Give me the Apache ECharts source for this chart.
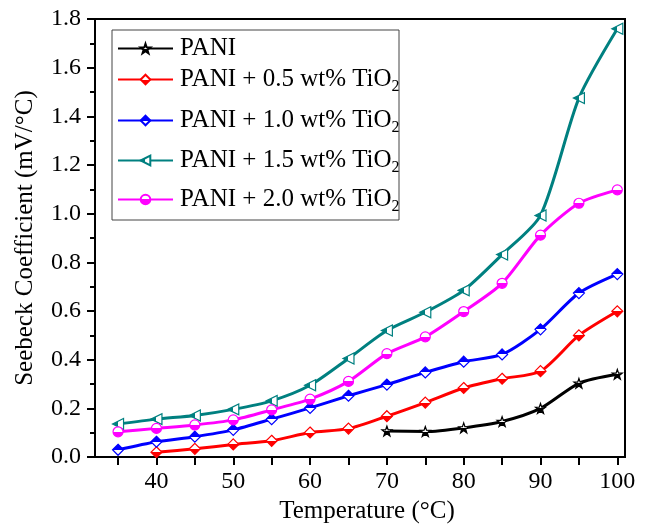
<!DOCTYPE html>
<html>
<head>
<meta charset="utf-8">
<script src="https://cdn.jsdelivr.net/npm/echarts@6/dist/echarts.min.js"></script>
<style>html,body{margin:0;padding:0;background:#fff}#c{width:648px;height:529px}</style>
</head>
<body>
<div id="c"></div>
<script>
// ---- data ----
const seriesNames = ['PANI', 'PANI + 0.5 wt% TiO2', 'PANI + 1.0 wt% TiO2', 'PANI + 1.5 wt% TiO2', 'PANI + 2.0 wt% TiO2'];
const tempsPANI = [70, 75, 80, 85, 90, 95, 100];
const valsPANI  = [0.107, 0.105, 0.12, 0.146, 0.2, 0.303, 0.34];
const temps05 = [40, 45, 50, 55, 60, 65, 70, 75, 80, 85, 90, 95, 100];
const vals05  = [0.02, 0.034, 0.052, 0.067, 0.101, 0.117, 0.168, 0.224, 0.284, 0.322, 0.353, 0.5, 0.599];
const temps10 = [35, 40, 45, 50, 55, 60, 65, 70, 75, 80, 85, 90, 95, 100];
const vals10  = [0.03, 0.063, 0.084, 0.112, 0.156, 0.202, 0.252, 0.298, 0.348, 0.392, 0.422, 0.525, 0.674, 0.752];
const temps15 = [35, 40, 45, 50, 55, 60, 65, 70, 75, 80, 85, 90, 95, 100];
const vals15  = [0.136, 0.156, 0.171, 0.196, 0.231, 0.295, 0.405, 0.52, 0.595, 0.685, 0.832, 0.993, 1.475, 1.76];
const temps20 = [35, 40, 45, 50, 55, 60, 65, 70, 75, 80, 85, 90, 95, 100];
const vals20  = [0.104, 0.118, 0.132, 0.153, 0.194, 0.238, 0.311, 0.425, 0.494, 0.598, 0.714, 0.912, 1.043, 1.098];
const xLabelTicks = [40, 50, 60, 70, 80, 90, 100];
const xTickValues = [35, 40, 45, 50, 55, 60, 65, 70, 75, 80, 85, 90, 95, 100];

const colors = ['#000000', '#FF0000', '#0000FF', '#008080', '#FF00FF'];
const FONT = '"Liberation Serif", "Times New Roman", serif';

function pairs(xs, ys) { return xs.map((x, i) => [x, ys[i]]); }
function half(c, dir) {
  if (dir === 'h') return {type: 'linear', x: 0, y: 0, x2: 1, y2: 0, colorStops: [{offset: 0, color: c}, {offset: 0.5, color: c}, {offset: 0.5, color: '#fff'}, {offset: 1, color: '#fff'}]};
  if (dir === 'vr') return {type: 'linear', x: 0, y: 0, x2: 0, y2: 1, colorStops: [{offset: 0, color: c}, {offset: 0.5, color: c}, {offset: 0.5, color: '#fff'}, {offset: 1, color: '#fff'}]};
  return {type: 'linear', x: 0, y: 0, x2: 0, y2: 1, colorStops: [{offset: 0, color: '#fff'}, {offset: 0.5, color: '#fff'}, {offset: 0.5, color: c}, {offset: 1, color: c}]};
}
const STAR = 'path://M0,-10L2.35,-3.24L9.51,-3.09L3.8,1.24L5.88,8.09L0,4L-5.88,8.09L-3.8,1.24L-9.51,-3.09L-2.35,-3.24Z';
const TRI_LEFT = 'path://M0,5L10,0L10,10Z';

const datasets = [pairs(tempsPANI, valsPANI), pairs(temps05, vals05), pairs(temps10, vals10), pairs(temps15, vals15), pairs(temps20, vals20)];
const symbols = [STAR, 'diamond', 'diamond', TRI_LEFT, 'circle'];
const symbolSizes = [10, 11, 11, 11, 10];
const fills = [half('#000', 'v'), half(colors[1], 'v'), half(colors[2], 'vr'), half(colors[3], 'h'), half(colors[4], 'v')];

const series = seriesNames.map((name, i) => ({
  name: name,
  type: 'line',
  data: datasets[i],
  smooth: 0.25,
  symbol: symbols[i],
  symbolSize: symbolSizes[i],
  showAllSymbol: true,
  lineStyle: {color: colors[i], width: 3},
  itemStyle: {color: fills[i], borderColor: colors[i], borderWidth: 1.2},
  emphasis: {disabled: true},
  z: 3 + i
}));

const rowTops = [36, 67, 108, 148, 187];
const legends = seriesNames.map((name, i) => ({
  data: [name],
  left: 117,
  top: rowTops[i],
  padding: 0,
  itemWidth: 55,
  itemHeight: 12,
  selectedMode: false,
  formatter: n => n.replace(/TiO2$/, 'TiO{sub|2}'),
  textStyle: {
    fontFamily: FONT, fontSize: 25, color: '#000', padding: [0, 0, 0, 2],
    rich: {sub: {fontFamily: FONT, fontSize: 16, color: '#000', padding: [14, 0, 0, 0]}}
  }
}));

const chart = echarts.init(document.getElementById('c'), null, {renderer: 'canvas'});
chart.setOption({
  animation: false,
  backgroundColor: '#fff',
  grid: {left: 95, right: 23, top: 19, bottom: 70, show: true, borderColor: '#000', borderWidth: 2, backgroundColor: 'transparent'},
  legend: legends,
  graphic: [{type: 'rect', z: 1, shape: {x: 112, y: 30, width: 287, height: 190}, style: {fill: 'none', stroke: '#444', lineWidth: 1}}],
  xAxis: {
    type: 'value', min: 32, max: 101,
    name: 'Temperature (°C)', nameLocation: 'middle', nameGap: 39,
    nameTextStyle: {fontFamily: FONT, fontSize: 25, color: '#000', padding: [0, 0, 0, 14]},
    axisLine: {lineStyle: {color: '#000', width: 2}},
    axisTick: {show: true, length: 8, lineStyle: {color: '#000', width: 2}, customValues: xTickValues},
    axisLabel: {fontFamily: FONT, fontSize: 24, color: '#000', margin: 13, customValues: xLabelTicks},
    splitLine: {show: false}
  },
  yAxis: {
    type: 'value', min: 0, max: 1.8, interval: 0.2,
    name: 'Seebeck Coefficient (mV/°C)', nameLocation: 'middle', nameGap: 57,
    nameTextStyle: {fontFamily: FONT, fontSize: 25, color: '#000'},
    axisLine: {show: true, lineStyle: {color: '#000', width: 2}},
    axisTick: {show: true, length: 8, lineStyle: {color: '#000', width: 2}},
    minorTick: {show: true, splitNumber: 2, length: 5, lineStyle: {color: '#000', width: 2}},
    axisLabel: {fontFamily: FONT, fontSize: 24, color: '#000', margin: 14, formatter: v => v.toFixed(1)},
    splitLine: {show: false}
  },
  series: series
});
</script>
</body>
</html>
